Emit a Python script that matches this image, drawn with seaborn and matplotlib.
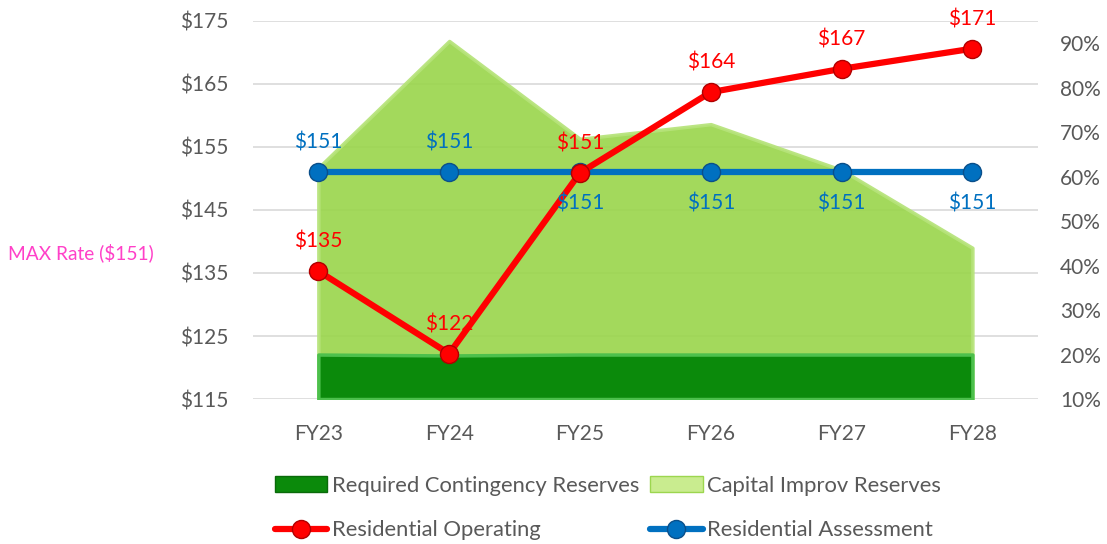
import numpy as np
import pandas as pd
import seaborn as sns
import matplotlib.pyplot as plt
from matplotlib.patches import Patch
from matplotlib.lines import Line2D

years = ["FY23", "FY24", "FY25", "FY26", "FY27", "FY28"]
operating = [135.3, 122.2, 150.9, 163.7, 167.4, 170.6]
assessment = [151, 151, 151, 151, 151, 151]
contingency_pct = [20, 19.8, 20, 20, 20, 20]
capital_pct = [62, 90.5, 68.5, 71.8, 61.5, 44]
left_ticks = [115, 125, 135, 145, 155, 165, 175]
right_ticks = [10, 20, 30, 40, 50, 60, 70, 80, 90]

sns.set_style("white")
plt.rcParams["font.family"] = ["Lato", "DejaVu Sans"]

df = pd.DataFrame({"year": years, "x": np.arange(len(years)),
                   "operating": operating, "assessment": assessment,
                   "contingency": contingency_pct, "capital": capital_pct})

fig = plt.figure(figsize=(11.07, 5.44), dpi=100)
ax = fig.add_axes([0.2285, 0.2665, 0.709, 0.695])
ax2 = ax.twinx()   # reserves (%)
ax3 = ax.twinx()   # rate lines ($)

tick_col = "#595959"
grid_col = "#d9d9d9"
fs = 15

# base axis: grid + left ticks
ax.set_xlim(-0.5, 5.5)
ax.set_ylim(115, 175)
ax.set_yticks(left_ticks)
ax.set_yticklabels([f"${v}" for v in left_ticks])
ax.grid(axis="y", color=grid_col, linewidth=1.2)
ax.set_xticks(df["x"])
ax.set_xticklabels(years)
ax.tick_params(axis="both", length=0, labelsize=fs, colors=tick_col)
ax.tick_params(axis="x", pad=18)
ax.tick_params(axis="y", pad=18)
for s in ax.spines.values():
    s.set_visible(False)

# reserves areas
ax2.set_ylim(10, 95)
ax2.fill_between(df["x"], 10, df["capital"], color="#9cd64f", alpha=0.93,
                 edgecolor="#b6e37a", linewidth=2.5, zorder=1)
ax2.fill_between(df["x"], 10, df["contingency"], color="#0b8a0b",
                 edgecolor="#4cc04c", linewidth=2.5, zorder=2)
ax2.set_yticks(right_ticks)
ax2.set_yticklabels([f"{v}%" for v in right_ticks])
ax2.tick_params(axis="y", length=0, labelsize=fs, colors=tick_col, pad=16)
for s in ax2.spines.values():
    s.set_visible(False)

# rate lines
ax3.set_ylim(115, 175)
sns.lineplot(data=df, x="x", y="assessment", ax=ax3, color="#0070c0", linewidth=4.5,
             marker="o", markersize=13, markeredgecolor="#0a4f8a", markeredgewidth=1)
sns.lineplot(data=df, x="x", y="operating", ax=ax3, color="#ff0000", linewidth=4.5,
             marker="o", markersize=13, markeredgecolor="#b00000", markeredgewidth=1)
ax3.set_xlim(-0.5, 5.5)
ax3.set_axis_off()

for i, v in enumerate(operating):
    ax3.annotate(f"${round(v)}", (i, v), xytext=(0, 14), textcoords="offset points",
                 ha="center", va="bottom", color="#ff0000", fontsize=fs)
for i, v in enumerate(assessment):
    above = i < 2
    ax3.annotate(f"${v}", (i, v), xytext=(0, 14 if above else -15), textcoords="offset points",
                 ha="center", va="bottom" if above else "top", color="#0070c0", fontsize=fs)

fig.text(8 / 1107, 1 - 253 / 544, "MAX Rate ($151)", color="#ff40c8", fontsize=13.8, va="center")

handles = [
    Patch(facecolor="#0b8a0b", edgecolor="#0a6a0a"),
    Line2D([], [], color="#ff0000", linewidth=4.5, marker="o", markersize=13, markeredgecolor="#b00000"),
    Patch(facecolor="#c9ec8f", edgecolor="#9cd64f"),
    Line2D([], [], color="#0070c0", linewidth=4.5, marker="o", markersize=13, markeredgecolor="#0a4f8a"),
]
labels = ["Required Contingency Reserves", "Residential Operating",
          "Capital Improv Reserves", "Residential Assessment"]
fig.legend(handles, labels, ncol=2, loc="center", bbox_to_anchor=(0.549, 0.066),
           frameon=False, fontsize=15.8, labelcolor=tick_col, handlelength=2.4,
           handletextpad=0.2, columnspacing=0.5, labelspacing=1.12, handleheight=0.7)

fig.savefig("out.png", dpi=100)
